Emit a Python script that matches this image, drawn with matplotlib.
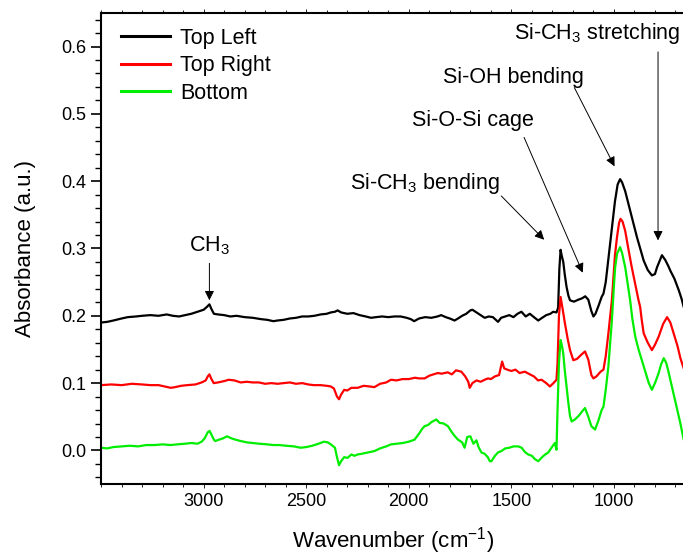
import matplotlib
matplotlib.use("Agg")
import matplotlib.pyplot as plt
from matplotlib.ticker import MultipleLocator, FixedLocator

plt.rcParams['font.family'] = ['Liberation Sans', 'DejaVu Sans']
plt.rcParams['mathtext.fontset'] = 'custom'
plt.rcParams['mathtext.rm'] = 'Liberation Sans'
plt.rcParams['mathtext.it'] = 'Liberation Sans'

# ---- spectra: wavenumber (cm^-1) and absorbance ----
wn_top_left = [3500, 3470, 3440, 3400, 3370, 3330, 3300, 3260, 3220, 3180, 3150, 3120, 3090, 3060,
               3030, 3000, 2985, 2972, 2962, 2950, 2930, 2900, 2870, 2840, 2800, 2760, 2720, 2690,
               2660, 2640, 2610, 2580, 2550, 2520, 2490, 2460, 2430, 2400, 2380, 2360, 2347, 2330,
               2300, 2270, 2240, 2210, 2184, 2160, 2130, 2100, 2070, 2040, 2010, 1990, 1974, 1950,
               1920, 1890, 1860, 1842, 1820, 1800, 1777, 1760, 1740, 1720, 1700, 1690, 1670, 1650,
               1630, 1610, 1590, 1565, 1550, 1530, 1510, 1490, 1470, 1451, 1430, 1410, 1390, 1369,
               1350, 1330, 1310, 1296, 1280, 1272, 1266, 1260, 1255, 1247, 1240, 1231, 1222, 1214,
               1195, 1173, 1155, 1140, 1125, 1110, 1100, 1090, 1075, 1060, 1051, 1040, 1025, 1010,
               995, 982, 970, 960, 945, 929, 910, 888, 870, 855, 835, 815, 800, 790, 775, 766, 750,
               735, 725, 705, 684, 670, 660, 650]
abs_top_left = [0.190, 0.191, 0.193, 0.196, 0.198, 0.199, 0.200, 0.201, 0.200, 0.202, 0.200, 0.199,
                0.201, 0.203, 0.206, 0.209, 0.213, 0.217, 0.210, 0.203, 0.202, 0.201, 0.199, 0.200,
                0.198, 0.197, 0.195, 0.194, 0.192, 0.193, 0.194, 0.196, 0.197, 0.199, 0.199, 0.200,
                0.202, 0.203, 0.205, 0.206, 0.208, 0.205, 0.203, 0.204, 0.201, 0.199, 0.197, 0.198,
                0.199, 0.198, 0.199, 0.199, 0.197, 0.195, 0.192, 0.196, 0.198, 0.197, 0.199, 0.201,
                0.198, 0.196, 0.193, 0.196, 0.200, 0.203, 0.208, 0.209, 0.205, 0.201, 0.197, 0.199,
                0.198, 0.191, 0.197, 0.199, 0.201, 0.198, 0.203, 0.206, 0.199, 0.203, 0.198, 0.193,
                0.197, 0.201, 0.203, 0.206, 0.205, 0.212, 0.270, 0.298, 0.290, 0.280, 0.262, 0.243,
                0.230, 0.223, 0.221, 0.224, 0.226, 0.229, 0.224, 0.207, 0.199, 0.203, 0.215, 0.228,
                0.233, 0.250, 0.290, 0.331, 0.370, 0.395, 0.403, 0.398, 0.385, 0.366, 0.343, 0.317,
                0.298, 0.282, 0.268, 0.260, 0.262, 0.272, 0.283, 0.290, 0.283, 0.274, 0.267, 0.255,
                0.238, 0.225, 0.213, 0.210]

wn_top_right = [3500, 3450, 3400, 3350, 3300, 3260, 3220, 3190, 3160, 3140, 3110, 3080, 3040, 3010,
                2990, 2980, 2972, 2962, 2951, 2930, 2900, 2878, 2850, 2820, 2790, 2760, 2730, 2700,
                2670, 2640, 2610, 2580, 2550, 2520, 2490, 2463, 2430, 2400, 2380, 2365, 2350, 2340,
                2330, 2315, 2300, 2280, 2250, 2220, 2190, 2168, 2140, 2110, 2087, 2060, 2030, 2000,
                1970, 1950, 1923, 1900, 1880, 1858, 1840, 1810, 1790, 1770, 1744, 1725, 1710, 1703,
                1690, 1670, 1650, 1630, 1614, 1600, 1580, 1560, 1545, 1535, 1520, 1500, 1480, 1460,
                1434, 1410, 1390, 1370, 1353, 1330, 1312, 1295, 1280, 1275, 1268, 1260, 1250, 1239,
                1225, 1214, 1198, 1180, 1160, 1141, 1125, 1110, 1100, 1085, 1065, 1051, 1040, 1027,
                1010, 995, 985, 975, 968, 958, 945, 930, 913, 895, 880, 872, 865, 855, 835, 815, 800,
                782, 760, 741, 725, 709, 690, 676, 660, 650]
abs_top_right = [0.097, 0.098, 0.097, 0.099, 0.098, 0.097, 0.097, 0.095, 0.093, 0.094, 0.096, 0.097,
                 0.098, 0.101, 0.104, 0.110, 0.113, 0.106, 0.100, 0.101, 0.103, 0.105, 0.104, 0.101,
                 0.102, 0.101, 0.101, 0.099, 0.100, 0.099, 0.100, 0.101, 0.099, 0.100, 0.098, 0.097,
                 0.097, 0.096, 0.095, 0.092, 0.080, 0.076, 0.083, 0.090, 0.089, 0.093, 0.093, 0.096,
                 0.095, 0.094, 0.099, 0.101, 0.105, 0.104, 0.106, 0.106, 0.108, 0.107, 0.107, 0.111,
                 0.113, 0.115, 0.114, 0.116, 0.113, 0.119, 0.117, 0.110, 0.102, 0.093, 0.100, 0.104,
                 0.102, 0.105, 0.107, 0.106, 0.110, 0.112, 0.132, 0.122, 0.120, 0.118, 0.120, 0.115,
                 0.117, 0.113, 0.110, 0.104, 0.105, 0.100, 0.095, 0.100, 0.105, 0.130, 0.200, 0.228,
                 0.210, 0.189, 0.165, 0.149, 0.134, 0.136, 0.142, 0.147, 0.135, 0.112, 0.107, 0.110,
                 0.117, 0.120, 0.140, 0.174, 0.223, 0.290, 0.317, 0.338, 0.344, 0.340, 0.326, 0.300,
                 0.272, 0.245, 0.223, 0.213, 0.195, 0.174, 0.160, 0.149, 0.157, 0.169, 0.188, 0.198,
                 0.190, 0.174, 0.155, 0.137, 0.122, 0.120]

wn_bottom = [3500, 3470, 3440, 3400, 3360, 3320, 3280, 3240, 3200, 3160, 3130, 3090, 3060, 3030,
             3010, 2995, 2980, 2971, 2960, 2950, 2943, 2925, 2905, 2886, 2865, 2845, 2820, 2790,
             2760, 2730, 2690, 2660, 2630, 2600, 2560, 2527, 2500, 2470, 2440, 2413, 2395, 2380,
             2360, 2350, 2340, 2330, 2315, 2298, 2280, 2265, 2250, 2230, 2200, 2168, 2140, 2110,
             2087, 2060, 2030, 2000, 1972, 1950, 1935, 1923, 1905, 1890, 1866, 1850, 1830, 1809,
             1790, 1775, 1760, 1740, 1728, 1715, 1700, 1685, 1670, 1660, 1646, 1630, 1615, 1605,
             1597, 1580, 1565, 1549, 1530, 1510, 1490, 1467, 1450, 1435, 1418, 1400, 1385, 1369,
             1350, 1335, 1320, 1300, 1288, 1280, 1275, 1268, 1260, 1253, 1247, 1240, 1231, 1222,
             1214, 1206, 1190, 1170, 1155, 1141, 1125, 1110, 1092, 1075, 1060, 1051, 1040, 1027,
             1010, 1000, 994, 985, 970, 960, 945, 932, 921, 910, 896, 880, 864, 845, 830, 815, 800,
             782, 770, 757, 745, 735, 725, 710, 692, 676, 660, 650]
abs_bottom = [0.004, 0.003, 0.005, 0.006, 0.007, 0.006, 0.008, 0.008, 0.009, 0.008, 0.009, 0.010,
              0.011, 0.010, 0.013, 0.018, 0.027, 0.029, 0.022, 0.016, 0.014, 0.016, 0.018, 0.021,
              0.018, 0.016, 0.014, 0.012, 0.011, 0.010, 0.009, 0.008, 0.008, 0.007, 0.006, 0.004,
              0.005, 0.007, 0.010, 0.013, 0.012, 0.009, 0.004, -0.010, -0.022, -0.016, -0.010,
              -0.011, -0.006, -0.008, -0.006, -0.005, -0.003, -0.001, 0.003, 0.006, 0.009, 0.010,
              0.011, 0.013, 0.016, 0.025, 0.032, 0.036, 0.038, 0.042, 0.046, 0.041, 0.040, 0.036,
              0.027, 0.021, 0.016, 0.012, 0.004, 0.020, 0.021, 0.010, 0.015, 0.005, -0.003, -0.005,
              -0.010, -0.016, -0.016, -0.008, -0.003, -0.001, 0.003, 0.004, 0.006, 0.006, 0.004,
              -0.002, -0.006, -0.008, -0.013, -0.016, -0.010, -0.006, -0.003, 0.006, 0.011, 0.001,
              0.060, 0.130, 0.164, 0.155, 0.144, 0.120, 0.095, 0.070, 0.051, 0.043, 0.046, 0.052,
              0.058, 0.063, 0.050, 0.036, 0.031, 0.045, 0.060, 0.065, 0.090, 0.125, 0.193, 0.245,
              0.272, 0.292, 0.302, 0.293, 0.272, 0.245, 0.223, 0.195, 0.169, 0.150, 0.134, 0.115,
              0.100, 0.090, 0.100, 0.115, 0.128, 0.137, 0.130, 0.118, 0.105, 0.085, 0.061, 0.040,
              0.016, 0.015]

series_labels = ["Top Left", "Top Right", "Bottom"]
series_colors = ["#000000", "#ff0000", "#00ee00"]

x_tick_values = [3000, 2500, 2000, 1500, 1000]

# ---- peak assignments: label, text anchor (wn, abs), arrow tail, arrow head ----
peak_labels = ["CH$_3$", "Si-CH$_3$ bending", "Si-O-Si cage", "Si-OH bending", "Si-CH$_3$ stretching"]
label_pos = [(2972, 0.296), (1923, 0.388), (1688, 0.4815), (1492, 0.5465), (1084, 0.611)]
arrow_tail = [(2972, 0.278), (1549, 0.378), (1438, 0.465), (1193, 0.539), (785, 0.592)]
arrow_head = [(2972, 0.223), (1340, 0.313), (1152, 0.264), (997, 0.422), (785, 0.312)]

fig = plt.figure(figsize=(6.83, 5.59), dpi=100)
ax = fig.add_axes([0.148, 0.134, 0.856, 0.843])

for wn, ab, lab, col in zip([wn_top_left, wn_top_right, wn_bottom],
                            [abs_top_left, abs_top_right, abs_bottom],
                            series_labels, series_colors):
    ax.plot(wn, ab, color=col, lw=1.6, label=lab)

for lab, tp, tail, head in zip(peak_labels, label_pos, arrow_tail, arrow_head):
    ax.text(tp[0], tp[1], lab, ha='center', va='baseline', fontsize=15.5)
    ax.annotate('', xy=head, xytext=tail,
                arrowprops=dict(arrowstyle='-|>', color='black', lw=0.7,
                                mutation_scale=14, shrinkA=0, shrinkB=0))

ax.set_xlim(3500, 650)
ax.set_ylim(-0.05, 0.65)
ax.xaxis.set_major_locator(FixedLocator(x_tick_values))
ax.xaxis.set_minor_locator(MultipleLocator(100))
ax.yaxis.set_major_locator(MultipleLocator(0.1))
ax.yaxis.set_minor_locator(MultipleLocator(0.02))
ax.yaxis.set_major_formatter(plt.FormatStrFormatter('%.1f'))

ax.tick_params(axis='both', which='major', direction='out', length=7, width=1.2,
               labelsize=13, top=False, right=False)
ax.tick_params(axis='both', which='minor', direction='out', length=4, width=1.0,
               top=False, right=False)
ax.tick_params(axis='x', which='major', top=True, length=3, width=0.6)
ax.tick_params(axis='x', which='minor', top=True, length=2, width=0.6)
for side in ['left', 'bottom', 'top']:
    ax.spines[side].set_linewidth(1.5)
ax.spines['right'].set_visible(False)

ax.set_xlabel("Wavenumber (cm$^{-1}$)", fontsize=16, labelpad=11)
ax.set_ylabel("Absorbance (a.u.)", fontsize=16, labelpad=18)

leg = ax.legend(loc='upper left', frameon=False, fontsize=15.5, handlelength=2.3,
                handletextpad=0.45, labelspacing=0.3, borderaxespad=0.3,
                bbox_to_anchor=(0.008, 1.0))
for line in leg.get_lines():
    line.set_linewidth(2.2)

fig.savefig("out.png", dpi=100)
